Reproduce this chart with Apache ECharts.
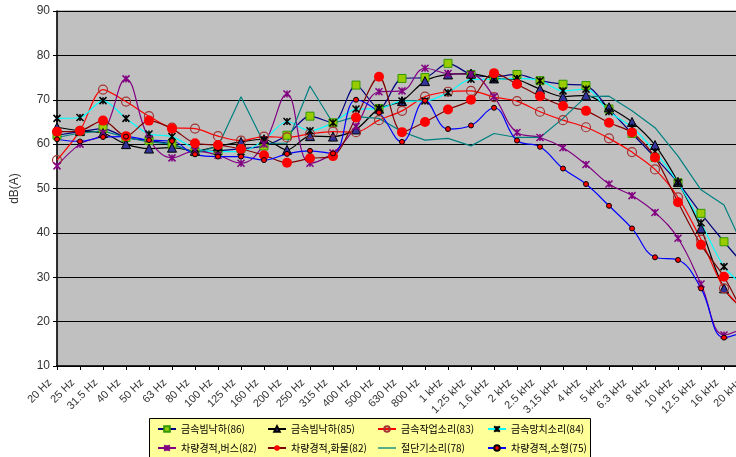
<!DOCTYPE html>
<html lang="ko">
<head>
    <meta charset="UTF-8">
    <title>주파수별 소음</title>
    <script src="https://cdn.jsdelivr.net/npm/echarts@6/dist/echarts.min.js"></script>
    <style>
        html, body { margin: 0; padding: 0; background: #fff; }
    </style>
</head>
<body>
    <div id="main" style="width: 736px;height:457px;"></div>
    <script>
        // 1/3 옥타브 밴드
        var bands = ['20 Hz','25 Hz','31.5 Hz','40 Hz','50 Hz','63 Hz','80 Hz','100 Hz','125 Hz','160 Hz',
            '200 Hz','250 Hz','315 Hz','400 Hz','500 Hz','630 Hz','800 Hz','1 kHz','1.25 kHz','1.6 kHz',
            '2 kHz','2.5 kHz','3.15 kHz','4 kHz','5 kHz','6.3 kHz','8 kHz','10 kHz','12.5 kHz','16 kHz','20 kHz'];

        var beamDrop86 = [62, 62.8, 63.5, 61.5, 60.8, 60, 58.3, 58.5, 59, 59.6, 62, 66.3, 64.8, 73.3, 68, 74.8,
            75, 78.2, 75.7, 75.2, 75.7, 74.3, 73.5, 73.2, 67.9, 62.4, 57, 51.3, 44.4, 38, 32];
        var beamDrop85 = [63.8, 63, 62.5, 60, 59, 59.2, 58.5, 59.5, 60.5, 61.1, 58.7, 61.8, 61.7, 63.3, 68, 69.7,
            74.2, 75.7, 75.9, 74.8, 74.5, 72.4, 70.7, 71, 68.3, 65, 59.8, 51.5, 41, 27.5, 22];
        var metalWork83 = [56.4, 63, 72.3, 69.6, 66.3, 63.7, 63.5, 61.8, 60.8, 61.7, 61.5, 62.3, 62.8, 62.7, 65.4, 67.5,
            70.7, 71.8, 72, 70.6, 69.7, 67.3, 65.4, 63.8, 61.3, 58.2, 54.3, 48, 38.5, 27.5, 22];
        var hammer84 = [65.8, 66, 69.8, 65.8, 62.3, 61.7, 59, 58.3, 58.3, 60.9, 65.1, 63, 64.8, 67.9, 68, 69.7,
            69.7, 71.6, 74.6, 74.6, 74.8, 74.3, 72, 72.4, 67.3, 63.8, 58.3, 51.3, 42.3, 32.4, 27.5];
        var hornBus82 = [55.1, 60, 62.5, 74.7, 61.2, 56.9, 58.5, 57.5, 55.7, 60, 71.3, 55.7, 58, 64, 71.8, 72,
            77.1, 75.9, 75.7, 70.7, 62.6, 61.5, 59.2, 55.4, 51, 48.4, 44.6, 38.8, 28.5, 17, 19];
        var hornTruck82 = [62.8, 63, 65.3, 61.8, 65.3, 63.5, 60.2, 59.8, 58.9, 57.5, 55.8, 56.8, 57.3, 66, 75.2, 62.7,
            65, 67.8, 70, 76, 73.5, 70.8, 68.6, 67.5, 64.8, 62.6, 57, 46.9, 37.3, 30.1, 20];
        var cutter78 = [61.5, 62.5, 63, 61.5, 60.5, 60, 58, 59.5, 70.7, 60.2, 60.2, 73.1, 64.7, 66.2, 65.8, 62.8,
            60.9, 61.3, 59.6, 62.4, 61.5, 61.5, 65.8, 70.7, 70.8, 67.5, 63.7, 57.3, 49.7, 46.3, 35];
        var hornCar75 = [61.1, 60.6, 61.6, 61.7, 60.9, 60.7, 57.7, 57.2, 57.2, 56.4, 57.8, 58.5, 57.9, 70, 67.1, 60.5,
            69.8, 63.4, 64.2, 68.2, 60.8, 59.4, 54.5, 51, 46.1, 41, 34.5, 33.9, 27.5, 16.4, 18];

        var star = 'path://M0,0L10,10M10,0L0,10M5,0L5,10';
        var font = 'Liberation Sans, Arial, sans-serif';
        var krFont = '"Noto Sans CJK KR", sans-serif';

        function mkLine(name, data, lineColor, symbol, size, fill, border, bw, smooth) {
            return {
                name: name,
                type: 'line',
                data: data,
                smooth: smooth,
                symbol: symbol,
                symbolSize: size,
                showSymbol: symbol !== 'none',
                lineStyle: { color: lineColor, width: 1.2 },
                itemStyle: { color: fill, borderColor: border, borderWidth: bw },
                emphasis: { disabled: true }
            };
        }

        var series = [
            mkLine('금속빔낙하(86)', beamDrop86, '#000080', 'rect', 8, '#99cc00', '#339900', 1, 0.3),
            mkLine('금속빔낙하(85)', beamDrop85, '#000000', 'triangle', 9, '#333399', '#000000', 1, 0.3),
            mkLine('금속작업소리(83)', metalWork83, '#ff0000', 'circle', 9, 'rgba(0,0,0,0)', '#a33333', 1.2, 0.3),
            mkLine('금속망치소리(84)', hammer84, '#00ffff', star, 7, 'rgba(0,0,0,0)', '#000000', 1.5, 0.3),
            mkLine('차량경적,버스(82)', hornBus82, '#800080', star, 7, 'rgba(0,0,0,0)', '#800080', 1.5, 0.4),
            mkLine('차량경적,화물(82)', hornTruck82, '#800000', 'circle', 10, '#ff0000', '#ff0000', 0, 0.3),
            mkLine('절단기소리(78)', cutter78, '#008080', 'none', 0, '#008080', '#008080', 0, false),
            mkLine('차량경적,소형(75)', hornCar75, '#0000ff', 'circle', 5, '#ff0000', '#000000', 1, 0.4)
        ];

        function col(x, names) {
            return {
                orient: 'vertical',
                left: x,
                top: 422,
                padding: 0,
                itemGap: 5,
                itemWidth: 18,
                itemHeight: 7,
                itemTextGap: 4,
                selectedMode: false,
                data: names,
                textStyle: { fontFamily: krFont, fontSize: 10, color: '#000', lineHeight: 14 }
            };
        }

        var myChart = echarts.init(document.getElementById('main'));
        var option = {
            animation: false,
            grid: {
                left: 57,
                top: 11,
                width: 690,
                height: 355,
                outerBoundsMode: 'none',
                show: true,
                backgroundColor: '#c0c0c0',
                borderColor: '#808080',
                borderWidth: 1
            },
            graphic: [{
                type: 'rect',
                z: 0,
                shape: { x: 149.5, y: 418.5, width: 441, height: 60 },
                style: { fill: '#ffff99', stroke: '#000', lineWidth: 1 }
            }],
            legend: [
                col(157, ['금속빔낙하(86)', '차량경적,버스(82)']),
                col(267, ['금속빔낙하(85)', '차량경적,화물(82)']),
                col(377, ['금속작업소리(83)', {
                    name: '절단기소리(78)',
                    icon: 'path://M0,0L18,0L18,1.3L0,1.3Z',
                    itemStyle: { color: '#008080' }
                }]),
                col(487, ['금속망치소리(84)', '차량경적,소형(75)'])
            ],
            xAxis: {
                type: 'category',
                data: bands,
                boundaryGap: false,
                axisLine: { lineStyle: { color: '#000', width: 1.5 } },
                axisTick: { show: true, length: 4, lineStyle: { color: '#000' } },
                axisLabel: {
                    rotate: 45, interval: 0, fontFamily: font, fontSize: 11, color: '#333',
                    margin: 8, padding: [0, 10, 0, 0]
                },
                splitLine: { show: false }
            },
            yAxis: {
                type: 'value',
                min: 10,
                max: 90,
                interval: 10,
                name: 'dB(A)',
                nameLocation: 'middle',
                nameGap: 36,
                nameTextStyle: { fontFamily: font, fontSize: 12, color: '#333' },
                axisLine: { show: true, lineStyle: { color: '#000', width: 1.5 } },
                axisTick: { show: true, length: 4, lineStyle: { color: '#000' } },
                axisLabel: { fontFamily: font, fontSize: 12, color: '#333', margin: 7 },
                splitLine: { lineStyle: { color: '#000', width: 1 } }
            },
            series: series
        };
        myChart.setOption(option);
    </script>
</body>
</html>
